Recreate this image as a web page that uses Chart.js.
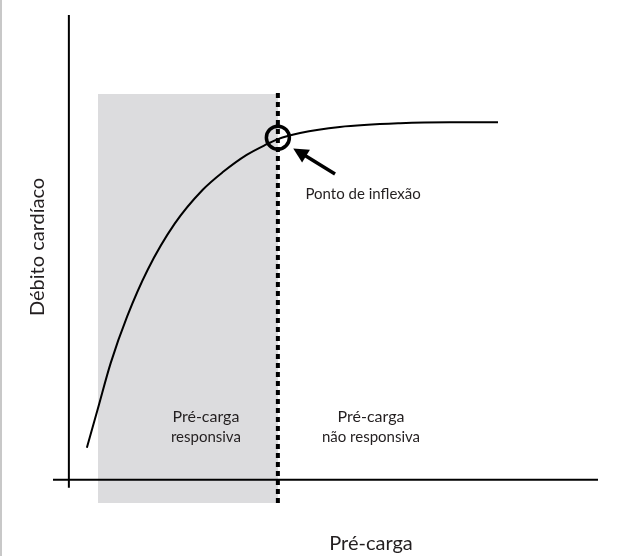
<!DOCTYPE html>
<html>
<head>
<meta charset="utf-8">
<script src="https://cdn.jsdelivr.net/npm/chart.js@4.4.0/dist/chart.umd.min.js"></script>
<style>
  html, body { margin: 0; padding: 0; background: #fff; }
  #wrap { width: 632px; height: 556px; }
</style>
</head>
<body>
<div id="wrap"><canvas id="grafico" width="632" height="556"></canvas></div>
<script>
// curva de Frank-Starling (unidades arbitrárias)
const preCarga = [3.4, 5.5, 7.9, 11.0, 14.9, 20.0, 25.3, 29.1, 33.6, 37.4, 39.5, 43.7, 51.2, 62.6, 72.0, 81.1];
const debito = [6.9, 15.4, 25.1, 35.1, 45.2, 55.1, 62.4, 66.2, 69.9, 72.2, 73.3, 74.6, 75.9, 76.7, 76.9, 76.9];

// ponto de inflexão
const inflexaoX = 39.5;
const inflexaoY = 73.6;

// zona sombreada (pré-carga responsiva)
const zonaX = [5.5, 39.5];
const zonaTopo = 83;

// limites dos eixos
const limitesX = [-3, 100];
const limitesY = [-5, 100];

// seta até o ponto de inflexão: [cauda, ponta]
const setaX = [50.3, 42.4];
const setaY = [65.8, 71.3];

const corTexto = '#231f20';
const fonte = 'Lato, "Open Sans", sans-serif';

// textos e rótulos desenhados sobre o gráfico
const textosPlugin = {
    id: 'textos',
    afterDraw(chart) {
        const ctx = chart.ctx;
        const x = chart.scales.x, y = chart.scales.y;

        // borda cinza à esquerda da figura
        ctx.save();
        ctx.fillStyle = '#c8c8c8';
        ctx.fillRect(0, 0, 2, chart.height);

        // seta
        const x0 = x.getPixelForValue(setaX[0]), y0 = y.getPixelForValue(setaY[0]);
        const x1 = x.getPixelForValue(setaX[1]), y1 = y.getPixelForValue(setaY[1]);
        const ang = Math.atan2(y1 - y0, x1 - x0);
        const cab = 15;
        ctx.strokeStyle = '#000';
        ctx.fillStyle = '#000';
        ctx.lineWidth = 3.5;
        ctx.beginPath();
        ctx.moveTo(x0, y0);
        ctx.lineTo(x1 - Math.cos(ang) * cab * 0.7, y1 - Math.sin(ang) * cab * 0.7);
        ctx.stroke();
        ctx.beginPath();
        ctx.moveTo(x1, y1);
        ctx.lineTo(x1 - Math.cos(ang) * cab + Math.sin(ang) * 7.5, y1 - Math.sin(ang) * cab - Math.cos(ang) * 7.5);
        ctx.lineTo(x1 - Math.cos(ang) * cab - Math.sin(ang) * 7.5, y1 - Math.sin(ang) * cab + Math.cos(ang) * 7.5);
        ctx.closePath();
        ctx.fill();

        ctx.fillStyle = corTexto;
        ctx.textAlign = 'center';
        ctx.textBaseline = 'middle';

        ctx.font = '15px ' + fonte;
        ctx.fillText('Ponto de inflexão', x.getPixelForValue(55.6), y.getPixelForValue(61.5));

        ctx.font = '16px ' + fonte;
        ctx.fillText('Pré-carga', x.getPixelForValue(25.9), y.getPixelForValue(13.6));
        ctx.fillText('Pré-carga', x.getPixelForValue(57.1), y.getPixelForValue(13.6));
        ctx.font = '15px ' + fonte;
        ctx.fillText('responsiva', x.getPixelForValue(25.9), y.getPixelForValue(9.2));
        ctx.fillText('não responsiva', x.getPixelForValue(57.1), y.getPixelForValue(9.2));

        // títulos dos eixos
        ctx.font = '20px ' + fonte;
        ctx.fillText('Pré-carga', x.getPixelForValue(57.1), y.getPixelForValue(-13.7));
        ctx.translate(x.getPixelForValue(-6.0), y.getPixelForValue(50.1));
        ctx.rotate(-Math.PI / 2);
        ctx.fillText('Débito cardíaco', 0, 0);
        ctx.restore();
    }
};

new Chart(document.getElementById('grafico'), {
    type: 'line',
    data: {
        datasets: [
            {
                // zona responsiva
                data: [{ x: zonaX[0], y: zonaTopo }, { x: zonaX[1], y: zonaTopo }],
                borderWidth: 0,
                pointRadius: 0,
                backgroundColor: '#dcdcde',
                fill: { value: limitesY[0] },
                order: 6
            },
            {
                // eixo x
                data: [{ x: limitesX[0], y: 0 }, { x: limitesX[1], y: 0 }],
                borderColor: '#000',
                borderWidth: 2,
                pointRadius: 0,
                order: 5
            },
            {
                // eixo y
                data: [{ x: 0, y: -1.7 }, { x: 0, y: limitesY[1] }],
                borderColor: '#000',
                borderWidth: 2,
                pointRadius: 0,
                order: 4
            },
            {
                // limite vertical pontilhado
                data: [{ x: inflexaoX, y: limitesY[0] }, { x: inflexaoX, y: zonaTopo + 0.5 }],
                borderColor: '#000',
                borderWidth: 4,
                borderDash: [5, 4],
                borderCapStyle: 'butt',
                pointRadius: 0,
                order: 3
            },
            {
                // curva
                data: preCarga.map((v, i) => ({ x: v, y: debito[i] })),
                borderColor: '#000',
                borderWidth: 2,
                pointRadius: 0,
                cubicInterpolationMode: 'monotone',
                order: 2
            },
            {
                // círculo no ponto de inflexão
                data: [{ x: inflexaoX, y: inflexaoY }],
                showLine: false,
                pointRadius: 11.5,
                pointBorderWidth: 3.5,
                pointBorderColor: '#000',
                pointBackgroundColor: 'rgba(0,0,0,0)',
                order: 1
            }
        ]
    },
    options: {
        responsive: false,
        animation: false,
        events: [],
        layout: { padding: { left: 53, right: 34, top: 13, bottom: 53 } },
        scales: {
            x: { type: 'linear', min: limitesX[0], max: limitesX[1], display: false },
            y: { type: 'linear', min: limitesY[0], max: limitesY[1], display: false }
        },
        elements: { line: { clip: false } },
        plugins: {
            legend: { display: false },
            tooltip: { enabled: false }
        }
    },
    plugins: [textosPlugin]
});
</script>
</body>
</html>
